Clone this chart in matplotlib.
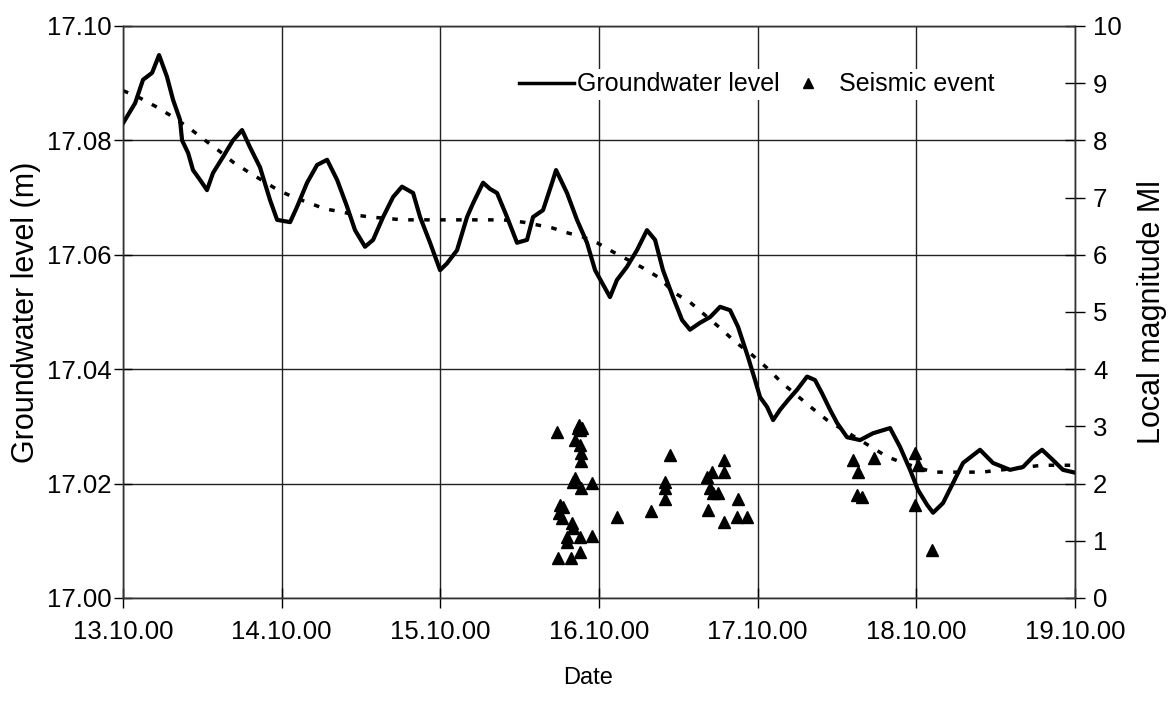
import numpy as np
import matplotlib
matplotlib.use('Agg')
import matplotlib.pyplot as plt
from matplotlib.lines import Line2D

plt.rcParams['font.family'] = ['Liberation Sans', 'DejaVu Sans']

# groundwater level (days since 13.10.00, m)
gw_day = [0.000, 0.076, 0.126, 0.183, 0.227, 0.277, 0.315, 0.359, 0.372, 0.410,
          0.441, 0.485, 0.529, 0.567, 0.630, 0.693, 0.750, 0.800, 0.863, 0.926,
          0.971, 1.053, 1.097, 1.160, 1.223, 1.286, 1.349, 1.412, 1.462, 1.525,
          1.576, 1.639, 1.702, 1.758, 1.828, 1.872, 1.935, 1.998, 2.042, 2.105,
          2.168, 2.206, 2.269, 2.313, 2.357, 2.420, 2.483, 2.546, 2.584, 2.647,
          2.704, 2.729, 2.798, 2.861, 2.924, 2.975, 3.069, 3.113, 3.176, 3.239,
          3.302, 3.353, 3.403, 3.466, 3.523, 3.573, 3.636, 3.700, 3.763, 3.826,
          3.876, 3.939, 3.983, 4.015, 4.059, 4.097, 4.141, 4.191, 4.248, 4.311,
          4.361, 4.405, 4.456, 4.500, 4.563, 4.645, 4.727, 4.834, 4.897, 4.960,
          5.010, 5.067, 5.105, 5.168, 5.231, 5.294, 5.401, 5.483, 5.590, 5.672,
          5.735, 5.792, 5.861, 5.924, 6.000]
gw_level = [17.0830, 17.0865, 17.0906, 17.0918, 17.0949, 17.0911, 17.0871, 17.0836, 17.0800, 17.0778,
            17.0748, 17.0731, 17.0713, 17.0743, 17.0771, 17.0800, 17.0818, 17.0788, 17.0753, 17.0696,
            17.0661, 17.0657, 17.0684, 17.0726, 17.0757, 17.0766, 17.0731, 17.0684, 17.0643, 17.0614,
            17.0626, 17.0666, 17.0701, 17.0719, 17.0708, 17.0666, 17.0621, 17.0573, 17.0585, 17.0608,
            17.0666, 17.0690, 17.0726, 17.0715, 17.0708, 17.0666, 17.0621, 17.0626, 17.0666, 17.0678,
            17.0726, 17.0748, 17.0708, 17.0661, 17.0621, 17.0573, 17.0526, 17.0556, 17.0579, 17.0608,
            17.0643, 17.0626, 17.0573, 17.0526, 17.0486, 17.0469, 17.0481, 17.0491, 17.0509, 17.0503,
            17.0474, 17.0421, 17.0381, 17.0351, 17.0334, 17.0311, 17.0329, 17.0346, 17.0364, 17.0387,
            17.0381, 17.0358, 17.0329, 17.0306, 17.0281, 17.0276, 17.0288, 17.0297, 17.0264, 17.0224,
            17.0189, 17.0163, 17.0149, 17.0166, 17.0201, 17.0236, 17.0259, 17.0236, 17.0224, 17.0229,
            17.0247, 17.0259, 17.0241, 17.0224, 17.0219]

# smoothed trend (dotted)
tr_day = [0.000, 0.107, 0.214, 0.296, 0.410, 0.498, 0.599, 0.693, 0.788, 0.977,
          1.071, 1.179, 1.273, 1.380, 1.450, 1.557, 1.765, 2.080, 2.395, 2.521,
          2.704, 2.805, 2.899, 2.987, 3.088, 3.277, 3.384, 3.466, 3.573, 3.763,
          3.857, 3.964, 4.059, 4.153, 4.342, 4.437, 4.727, 4.815, 4.916, 5.105,
          5.414, 5.792, 6.000]
tr_level = [17.0887, 17.0874, 17.0858, 17.0844, 17.0823, 17.0804, 17.0783, 17.0762, 17.0745, 17.0713,
            17.0701, 17.0690, 17.0680, 17.0675, 17.0670, 17.0666, 17.0661, 17.0661, 17.0661, 17.0657,
            17.0647, 17.0638, 17.0631, 17.0621, 17.0605, 17.0577, 17.0559, 17.0535, 17.0517, 17.0472,
            17.0448, 17.0425, 17.0402, 17.0376, 17.0332, 17.0311, 17.0262, 17.0247, 17.0236, 17.0220,
            17.0220, 17.0232, 17.0232]

# seismic events (days, local magnitude)
ev_day = [2.735, 2.874, 2.880, 2.868, 2.893, 2.849, 2.880, 2.887, 2.887, 2.849,
          2.836, 2.887, 2.956, 2.754, 2.773, 2.748, 2.767, 2.830, 2.836, 2.798,
          2.798, 2.880, 2.956, 2.880, 2.742, 2.824, 3.113, 3.328, 3.447, 3.416,
          3.416, 3.416, 3.681, 3.712, 3.788, 3.788, 3.700, 3.718, 3.750, 3.687,
          3.788, 3.876, 3.870, 3.933, 4.601, 4.632, 4.626, 4.657, 4.733, 4.992,
          5.010, 4.992, 5.099]
ev_mag = [2.90, 3.02, 2.94, 2.98, 2.97, 2.76, 2.67, 2.53, 2.40, 2.10,
          2.03, 1.92, 2.01, 1.63, 1.59, 1.49, 1.40, 1.31, 1.22, 1.07,
          0.98, 1.07, 1.08, 0.80, 0.70, 0.70, 1.42, 1.52, 2.50, 2.03,
          1.92, 1.73, 2.12, 2.20, 2.41, 2.20, 1.92, 1.84, 1.84, 1.54,
          1.33, 1.73, 1.42, 1.42, 2.41, 2.20, 1.80, 1.77, 2.45, 2.53,
          2.33, 1.63, 0.84]

date_labels = ['13.10.00', '14.10.00', '15.10.00', '16.10.00',
               '17.10.00', '18.10.00', '19.10.00']
level_ticks = [17.00, 17.02, 17.04, 17.06, 17.08, 17.10]
mag_ticks = list(range(0, 11))

fig = plt.figure(figsize=(11.73, 7.03), dpi=100)
ax = fig.add_axes([0.1049, 0.1494, 0.8116, 0.8137])
ax2 = ax.twinx()

ax.plot(gw_day, gw_level, color='black', lw=3.0, zorder=3)
ax.plot(tr_day, tr_level, color='black', lw=2.5, ls=(0, (1.6, 3.0)), zorder=3)
ax2.plot(ev_day, ev_mag, ls='none', marker='^', color='black', ms=9, zorder=4)

ax.set_xlim(0, 6)
ax.set_ylim(17.00, 17.10)
ax2.set_ylim(0, 10)
ax.set_xticks(range(len(date_labels)))
ax.set_xticklabels(date_labels)
ax.set_yticks(level_ticks)
ax.set_yticklabels([f'{v:.2f}' for v in level_ticks])
ax2.set_yticks(mag_ticks)

ax.grid(True, color='#222222', lw=1.0)
ax.set_axisbelow(True)
for a in (ax, ax2):
    for s in a.spines.values():
        s.set_color('#333333')
        s.set_linewidth(1.0)

ax.tick_params(axis='y', direction='inout', length=13, width=1, labelsize=18.5, pad=2)
ax.tick_params(axis='x', direction='inout', length=14, width=1, labelsize=18.5, pad=9)
ax2.tick_params(axis='y', direction='inout', length=14, width=1, labelsize=18.5, pad=6)

ax.set_xlabel('Date', fontsize=17)
ax.xaxis.set_label_coords(0.488, -0.12)
ax.set_ylabel('Groundwater level (m)', fontsize=22)
ax.yaxis.set_label_coords(-0.086, 0.5)
ax2.set_ylabel('Local magnitude Ml', fontsize=22, labelpad=11)

handles = [Line2D([], [], color='black', lw=2.5),
           Line2D([], [], ls='none', marker='^', color='black', ms=7)]
leg = ax2.legend(handles, ['Groundwater level', 'Seismic event'], ncol=2,
                 loc='center left', bbox_to_anchor=(0.412, 0.898), borderaxespad=0,
                 frameon=True, fontsize=18,
                 handlelength=2.2, handletextpad=0.12,
                 columnspacing=0.05, borderpad=0.15, fancybox=False)
leg.get_frame().set_facecolor('white')
leg.get_frame().set_edgecolor('none')
leg.get_frame().set_alpha(1)

fig.savefig('out.png', dpi=100)
